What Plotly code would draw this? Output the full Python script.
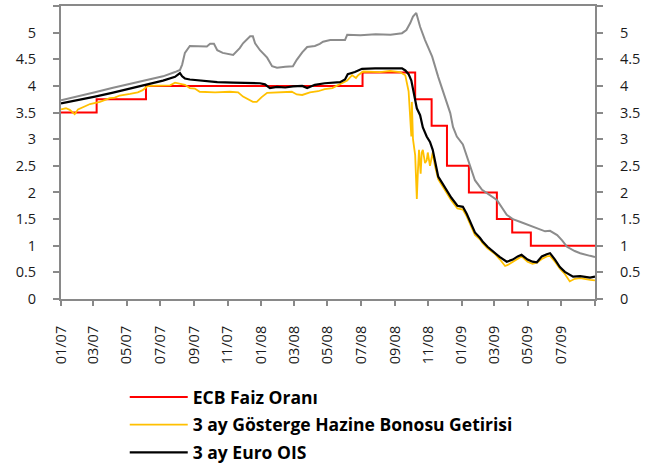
import plotly.graph_objects as go

# ECB policy rate (step changes)
ecb_dates = ["2007-01-01", "2007-03-07", "2007-06-05", "2008-07-04", "2008-10-08",
             "2008-11-07", "2008-12-05", "2009-01-14", "2009-03-06", "2009-04-03",
             "2009-05-07", "2009-09-01"]
ecb_rate = [3.5, 3.75, 4.0, 4.25, 3.75, 3.25, 2.5, 2.0, 1.5, 1.25, 1.0, 1.0]

# 3-month Euribor (grey line, right axis)
eur_dates = ["2007-01-01", "2007-02-01", "2007-03-04", "2007-04-04", "2007-05-07", "2007-06-07",
             "2007-07-06", "2007-07-28", "2007-08-06", "2007-08-10", "2007-08-15", "2007-08-24",
             "2007-09-17", "2007-09-24", "2007-09-30", "2007-10-07", "2007-10-13", "2007-10-23",
             "2007-11-11", "2007-11-23", "2007-11-29", "2007-12-12", "2007-12-17", "2007-12-21",
             "2007-12-30", "2008-01-12", "2008-01-21", "2008-01-30", "2008-02-14", "2008-02-28",
             "2008-03-06", "2008-03-16", "2008-03-25", "2008-04-08", "2008-04-17", "2008-04-23",
             "2008-05-06", "2008-06-02", "2008-06-06", "2008-06-30", "2008-07-28", "2008-08-24",
             "2008-09-14", "2008-09-22", "2008-09-29", "2008-10-04", "2008-10-10", "2008-10-13",
             "2008-10-17", "2008-10-26", "2008-11-08", "2008-11-19", "2008-12-01", "2008-12-11",
             "2008-12-16", "2008-12-23", "2009-01-03", "2009-01-16", "2009-01-25", "2009-02-07",
             "2009-02-22", "2009-03-06", "2009-03-24", "2009-04-04", "2009-04-17", "2009-05-06",
             "2009-05-24", "2009-06-02", "2009-06-11", "2009-06-24", "2009-07-03", "2009-07-12",
             "2009-07-26", "2009-08-05", "2009-08-23", "2009-09-01"]
eur_rate = [3.73, 3.80, 3.88, 3.96, 4.04, 4.11,
            4.18, 4.26, 4.30, 4.40, 4.62, 4.75,
            4.75, 4.74, 4.79, 4.79, 4.67, 4.62,
            4.58, 4.71, 4.80, 4.93, 4.93, 4.80,
            4.67, 4.53, 4.37, 4.34, 4.36, 4.37,
            4.49, 4.63, 4.73, 4.75, 4.79, 4.83,
            4.86, 4.86, 4.96, 4.95, 4.97, 4.96,
            4.99, 5.05, 5.18, 5.30, 5.37, 5.25,
            5.11, 4.86, 4.55, 4.17, 3.80, 3.49,
            3.23, 3.05, 2.90, 2.50, 2.23, 2.05,
            1.95, 1.86, 1.58, 1.50, 1.45, 1.38,
            1.30, 1.27, 1.28, 1.20, 1.10, 0.98,
            0.90, 0.86, 0.81, 0.79]

# 3-month treasury bill benchmark yield
tb_dates = ["2007-01-01", "2007-01-10", "2007-01-17", "2007-01-26", "2007-02-01", "2007-02-14",
            "2007-02-23", "2007-03-13", "2007-03-22", "2007-03-31", "2007-04-09", "2007-04-18",
            "2007-05-07", "2007-05-21", "2007-05-30", "2007-06-07", "2007-06-12", "2007-07-19",
            "2007-07-28", "2007-08-06", "2007-08-15", "2007-08-24", "2007-09-02", "2007-09-11",
            "2007-10-09", "2007-11-05", "2007-11-20", "2007-11-29", "2007-12-08", "2007-12-17",
            "2007-12-24", "2008-01-02", "2008-01-12", "2008-02-04", "2008-02-26", "2008-03-06",
            "2008-03-16", "2008-03-30", "2008-04-14", "2008-04-26", "2008-05-10", "2008-05-21",
            "2008-06-06", "2008-06-15", "2008-06-22", "2008-06-26", "2008-07-05", "2008-08-05",
            "2008-08-23", "2008-09-10", "2008-09-20", "2008-09-26", "2008-09-29", "2008-10-01",
            "2008-10-02", "2008-10-04", "2008-10-08", "2008-10-10", "2008-10-11", "2008-10-13",
            "2008-10-15", "2008-10-17", "2008-10-18", "2008-10-20", "2008-10-22", "2008-10-26",
            "2008-10-29", "2008-10-31", "2008-11-04", "2008-11-08", "2008-11-09", "2008-11-13",
            "2008-11-19", "2008-11-25", "2008-12-01", "2008-12-13", "2008-12-24", "2009-01-03",
            "2009-01-10", "2009-01-16", "2009-01-25", "2009-02-03", "2009-02-08", "2009-02-17",
            "2009-03-02", "2009-03-11", "2009-03-21", "2009-03-26", "2009-04-04", "2009-04-13",
            "2009-04-20", "2009-05-01", "2009-05-10", "2009-05-18", "2009-05-27", "2009-06-05",
            "2009-06-11", "2009-06-20", "2009-06-29", "2009-07-08", "2009-07-17", "2009-07-26",
            "2009-08-05", "2009-08-23", "2009-09-01"]
tb_rate = [3.56, 3.58, 3.55, 3.47, 3.56, 3.62,
           3.66, 3.70, 3.74, 3.77, 3.78, 3.82,
           3.85, 3.88, 3.92, 3.99, 4.00, 4.01,
           4.06, 4.04, 4.02, 3.96, 3.95, 3.89,
           3.88, 3.89, 3.88, 3.80, 3.75, 3.70,
           3.70, 3.79, 3.87, 3.88, 3.89, 3.84,
           3.83, 3.88, 3.90, 3.94, 3.96, 4.02,
           4.10, 4.20, 4.15, 4.20, 4.27, 4.26,
           4.28, 4.26, 4.20, 3.90, 3.40, 3.05,
           3.70, 3.00, 2.70, 2.20, 1.88, 2.40,
           2.80, 2.50, 2.35, 2.75, 2.80, 2.55,
           2.60, 2.75, 2.50, 2.70, 2.75, 2.50,
           2.25, 2.15, 2.05, 1.85, 1.70, 1.68,
           1.55, 1.42, 1.20, 1.12, 1.05, 0.95,
           0.85, 0.75, 0.62, 0.64, 0.70, 0.77,
           0.80, 0.70, 0.66, 0.68, 0.75, 0.80,
           0.81, 0.70, 0.57, 0.47, 0.33, 0.38,
           0.39, 0.36, 0.35]

# 3-month Euro OIS
ois_dates = ["2007-01-01", "2007-02-01", "2007-03-04", "2007-04-04", "2007-05-07", "2007-06-07",
             "2007-07-06", "2007-07-28", "2007-08-06", "2007-08-10", "2007-08-15", "2007-08-24",
             "2007-09-17", "2007-10-13", "2007-11-11", "2007-12-12", "2007-12-30", "2008-01-08",
             "2008-01-17", "2008-01-30", "2008-02-14", "2008-02-28", "2008-03-16", "2008-03-25",
             "2008-04-08", "2008-04-26", "2008-05-24", "2008-06-02", "2008-06-07", "2008-06-20",
             "2008-07-03", "2008-07-27", "2008-08-23", "2008-09-14", "2008-09-20", "2008-09-26",
             "2008-10-01", "2008-10-04", "2008-10-08", "2008-10-11", "2008-10-17", "2008-10-22",
             "2008-10-29", "2008-11-04", "2008-11-09", "2008-11-15", "2008-11-19", "2008-11-25",
             "2008-12-01", "2008-12-13", "2008-12-24", "2009-01-03", "2009-01-10", "2009-01-16",
             "2009-01-25", "2009-02-03", "2009-02-08", "2009-02-17", "2009-03-02", "2009-03-11",
             "2009-03-24", "2009-04-04", "2009-04-13", "2009-04-20", "2009-05-01", "2009-05-10",
             "2009-05-18", "2009-05-27", "2009-06-05", "2009-06-11", "2009-06-20", "2009-06-29",
             "2009-07-08", "2009-07-17", "2009-07-23", "2009-08-05", "2009-08-23", "2009-09-01"]
ois_rate = [3.67, 3.73, 3.80, 3.87, 3.95, 4.02,
            4.10, 4.17, 4.24, 4.18, 4.14, 4.12,
            4.09, 4.07, 4.06, 4.05, 4.05, 4.03,
            3.96, 3.98, 3.97, 3.99, 4.00, 3.96,
            4.02, 4.05, 4.07, 4.12, 4.22, 4.26,
            4.32, 4.33, 4.33, 4.33, 4.29, 4.22,
            4.10, 3.95, 3.75, 3.58, 3.45, 3.22,
            3.05, 2.95, 2.80, 2.52, 2.30, 2.20,
            2.10, 1.90, 1.75, 1.73, 1.60, 1.45,
            1.25, 1.15, 1.08, 0.98, 0.87, 0.79,
            0.70, 0.74, 0.80, 0.83, 0.74, 0.70,
            0.69, 0.80, 0.84, 0.86, 0.74, 0.60,
            0.51, 0.45, 0.42, 0.43, 0.40, 0.42]

tick_vals = ["2007-01-01", "2007-03-01", "2007-05-01", "2007-07-01", "2007-09-01", "2007-11-01",
             "2008-01-01", "2008-03-01", "2008-05-01", "2008-07-01", "2008-09-01", "2008-11-01",
             "2009-01-01", "2009-03-01", "2009-05-01", "2009-07-01", "2009-09-01"]
tick_text = ["01/07", "03/07", "05/07", "07/07", "09/07", "11/07",
             "01/08", "03/08", "05/08", "07/08", "09/08", "11/08",
             "01/09", "03/09", "05/09", "07/09", ""]

FONT = "Open Sans"
AXIS_GREY = "#898989"
TICK_FONT = dict(family=FONT, size=14.5, color="#1a1a1a")

fig = go.Figure()
fig.add_trace(go.Scatter(x=eur_dates, y=eur_rate, mode="lines", yaxis="y2",
                         line=dict(color="#8c8c8c", width=2), showlegend=False,
                         name="3 ay Euribor"))
fig.add_trace(go.Scatter(x=ecb_dates, y=ecb_rate, mode="lines", line_shape="hv",
                         line=dict(color="#ff0000", width=2),
                         name="ECB Faiz Oranı", legendgroup="a"))
fig.add_trace(go.Scatter(x=tb_dates, y=tb_rate, mode="lines",
                         line=dict(color="#ffc000", width=1.8),
                         name="3 ay Gösterge Hazine Bonosu Getirisi", legendgroup="b"))
fig.add_trace(go.Scatter(x=ois_dates, y=ois_rate, mode="lines",
                         line=dict(color="#000000", width=2.2),
                         name="3 ay Euro OIS", legendgroup="c"))

yaxis_common = dict(range=[0, 5.5], dtick=0.5, tick0=0, showgrid=False, zeroline=False,
                    showline=True, linecolor=AXIS_GREY, linewidth=2, automargin=False,
                    ticks="outside", ticklen=6, tickwidth=1.5, tickcolor=AXIS_GREY,
                    tickfont=TICK_FONT, ticklabelstandoff=14)

fig.update_layout(
    width=660, height=472,
    margin=dict(l=61, r=65, t=6, b=173, autoexpand=False),
    plot_bgcolor="white", paper_bgcolor="white",
    xaxis=dict(type="date", range=["2007-01-01", "2009-09-01"], automargin=False,
               tickmode="array", tickvals=tick_vals, ticktext=tick_text, tickangle=-90,
               showgrid=False, zeroline=False, showline=True, mirror=True,
               linecolor=AXIS_GREY, linewidth=2,
               ticks="outside", ticklen=5, tickwidth=1.5, tickcolor=AXIS_GREY,
               tickfont=TICK_FONT, ticklabelstandoff=14),
    yaxis=dict(**yaxis_common),
    yaxis2=dict(**yaxis_common, overlaying="y", side="right"),
    legend=dict(orientation="v", xref="container", x=0.189, xanchor="left",
                yref="container", y=0.197, yanchor="top",
                font=dict(family=FONT, size=17.5, color="#000000", weight="bold"),
                itemwidth=58, tracegroupgap=2, bgcolor="rgba(0,0,0,0)"),
)

fig.write_html("out.html")
